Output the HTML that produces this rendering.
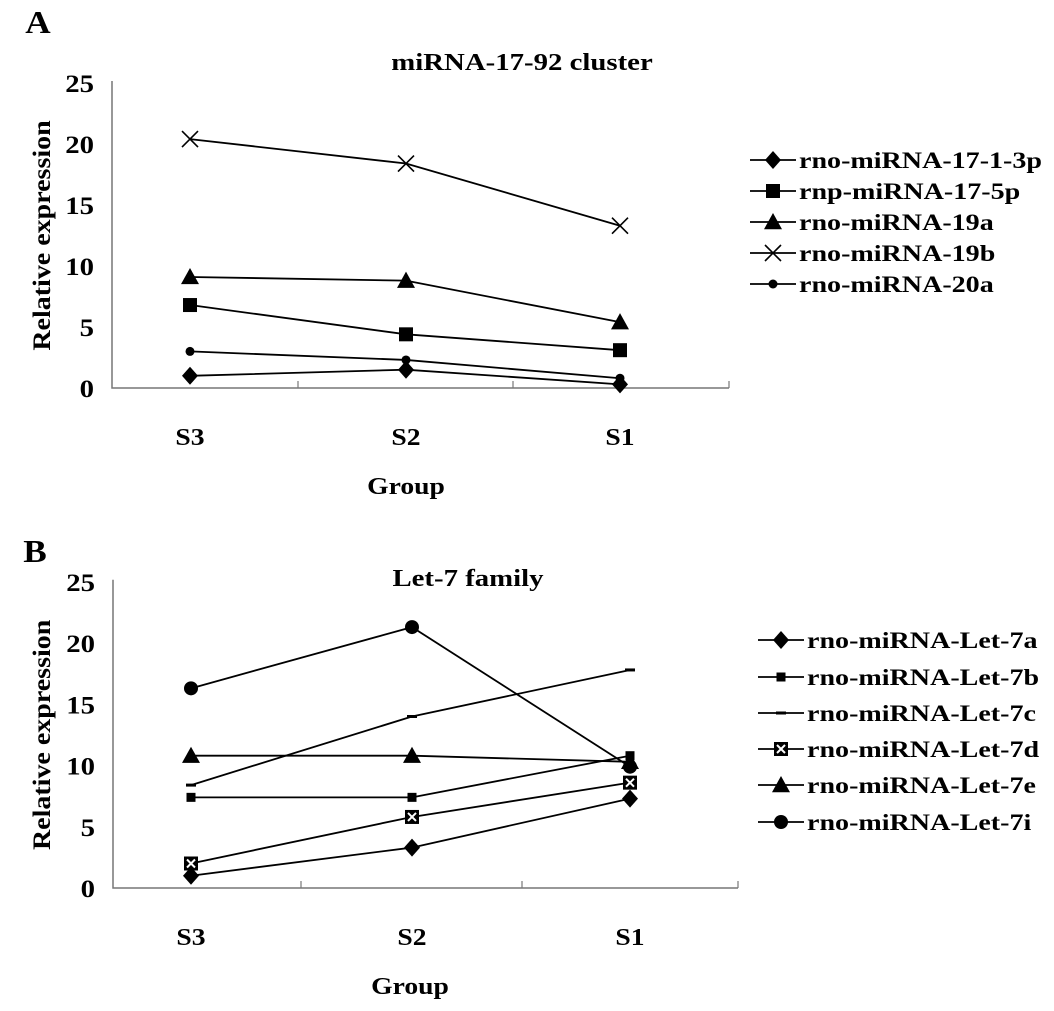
<!DOCTYPE html>
<html><head><meta charset="utf-8"><style>
html,body{margin:0;padding:0;background:#fff;width:1054px;height:1011px;overflow:hidden}
svg text{font-family:"Liberation Serif",serif;font-weight:bold;fill:#000}
</style></head><body>
<svg id="chart" width="1054" height="1011" viewBox="0 0 1054 1011" xmlns="http://www.w3.org/2000/svg"></svg>
<script>
const categories = ["S3","S2","S1"];
const yTicks = [0,5,10,15,20,25];
const namesA = ["rno-miRNA-17-1-3p","rnp-miRNA-17-5p","rno-miRNA-19a","rno-miRNA-19b","rno-miRNA-20a"];
const a17_1_3p = [1.0,1.5,0.3];
const a17_5p = [6.8,4.4,3.1];
const a19a = [9.1,8.8,5.4];
const a19b = [20.4,18.4,13.3];
const a20a = [3.0,2.3,0.8];
const namesB = ["rno-miRNA-Let-7a","rno-miRNA-Let-7b","rno-miRNA-Let-7c","rno-miRNA-Let-7d","rno-miRNA-Let-7e","rno-miRNA-Let-7i"];
const b7a = [1.0,3.3,7.3];
const b7b = [7.4,7.4,10.8];
const b7c = [8.4,14.0,17.8];
const b7d = [2.0,5.8,8.6];
const b7e = [10.8,10.8,10.3];
const b7i = [16.3,21.3,9.9];

const svg = document.getElementById('chart');
const NS = "http://www.w3.org/2000/svg";
function mk(tag, attrs, parent){const e=document.createElementNS(NS,tag);for(const k in attrs)e.setAttribute(k,attrs[k]);(parent||svg).appendChild(e);return e;}
function txt(x,y,s,size,anchor,parent,sx,rot){
  const t=mk('text',{x:0,y:0,'font-size':size,'text-anchor':anchor||'middle'},parent);
  t.setAttribute('transform',`translate(${x},${y})${rot?' rotate(-90)':''} scale(${sx||1.2},1)`);
  t.textContent=s;return t;}

function marker(type,x,y,g){
  let e;
  if(type==='diamond'){e=mk('polygon',{points:`${x},${y-9} ${x+8},${y} ${x},${y+9} ${x-8},${y}`,fill:'#000'},g);}
  else if(type==='square'){e=mk('rect',{x:x-7,y:y-7,width:14,height:14,fill:'#000'},g);}
  else if(type==='smallsquare'){e=mk('rect',{x:x-4.5,y:y-4.5,width:9,height:9,fill:'#000'},g);}
  else if(type==='triangle'){const r=9;e=mk('polygon',{points:`${x},${y-r} ${x+r},${y+r*0.8} ${x-r},${y+r*0.8}`,fill:'#000'},g);}
  else if(type==='x'){e=mk('path',{d:`M${x-8},${y-8}L${x+8},${y+8}M${x-8},${y+8}L${x+8},${y-8}`,stroke:'#000','stroke-width':1.6,fill:'none'},g);}
  else if(type==='dot'){e=mk('circle',{cx:x,cy:y,r:4.5,fill:'#000'},g);}
  else if(type==='circle'){e=mk('circle',{cx:x,cy:y,r:7,fill:'#000'},g);}
  else if(type==='dash'){e=mk('rect',{x:x-5,y:y-1.5,width:10,height:3,fill:'#000'},g);}
  else if(type==='sqx'){e=mk('g',{},g);mk('rect',{x:x-7,y:y-7,width:14,height:14,fill:'#000'},e);mk('path',{d:`M${x-4},${y-4}L${x+4},${y+4}M${x-4},${y+4}L${x+4},${y-4}`,stroke:'#fff','stroke-width':2},e);}
  
  
  return e;
}

function panel(cfg){
  const g=mk('g',{});
  
  
  const y=v=>cfg.y0 - v*cfg.py;
  const x=i=>cfg.cx[i];
  const ax=mk('path',{d:`M${cfg.x0},${y(25)-2}L${cfg.x0},${cfg.y0}L${cfg.x1},${cfg.y0}`,stroke:'#777','stroke-width':1.5,fill:'none'},g);
  
  
  cfg.xt.forEach(t=>mk('line',{x1:t,y1:cfg.y0,x2:t,y2:cfg.y0-7,stroke:'#777','stroke-width':1.2},g));
  mk('line',{x1:cfg.x1,y1:cfg.y0,x2:cfg.x1,y2:cfg.y0-7,stroke:'#777','stroke-width':1.2},g);
  yTicks.forEach(v=>{const t=txt(cfg.x0-18,y(v)+9,String(v),25,'end',g,1.15);
    
    });
  categories.forEach((c,i)=>{const t=txt(x(i),cfg.y0+57,c,24,'middle',g,1.15);
    
    });
  const tt=txt(cfg.tx,cfg.ty,cfg.title,24,'middle',g,1.2);
  
  
  const pl=txt(cfg.lx,cfg.ly,cfg.letter,32,'middle',g,1.1);
  
  
  const gx=txt(cfg.gx,cfg.y0+106,"Group",24,'middle',g,1.15);
  
  
  const yt=txt(50,y(12.5),"Relative expression",25,'middle',g,1.12,true);
  
  
  cfg.series.forEach((s,si)=>{
    const sg=mk('g',{},g);
    
    
    const pts=s.data.map((v,i)=>x(i)+','+y(v)).join(' ');
    const l=mk('polyline',{points:pts,fill:'none',stroke:'#000','stroke-width':1.8},sg);
    
    
    s.data.forEach((v,i)=>marker(s.m,x(i),y(v),sg));
    const ly=cfg.legY[si];
    const lg=mk('g',{},g);
    
    
    mk('line',{x1:cfg.legX,y1:ly,x2:cfg.legX+46,y2:ly,stroke:'#000','stroke-width':1.8},lg);
    marker(s.m,cfg.legX+23,ly,lg);
    txt(cfg.legX+49,ly+8,cfg.names[si],23,'start',lg,1.22);
  });
}

panel({name:'panel-a',letter:'A',lx:38,ly:33,title:'miRNA-17-92 cluster',tx:522,ty:70,
  x0:112,x1:729,y0:388,py:12.2,cx:[190,406,620],xt:[298,513],gx:406,
  names:namesA,legX:750,legY:[160,191,222,253,284],
  series:[{data:a17_1_3p,m:'diamond'},{data:a17_5p,m:'square'},{data:a19a,m:'triangle'},{data:a19b,m:'x'},{data:a20a,m:'dot'}]});
panel({name:'panel-b',letter:'B',lx:35,ly:562,title:'Let-7 family',tx:468,ty:586,
  x0:113,x1:738,y0:888,py:12.25,cx:[191,412,630],xt:[301,522],gx:410,
  names:namesB,legX:758,legY:[640,677,713,749,785,822],
  series:[{data:b7a,m:'diamond'},{data:b7b,m:'smallsquare'},{data:b7c,m:'dash'},{data:b7d,m:'sqx'},{data:b7e,m:'triangle'},{data:b7i,m:'circle'}]});
</script>
</body></html>
